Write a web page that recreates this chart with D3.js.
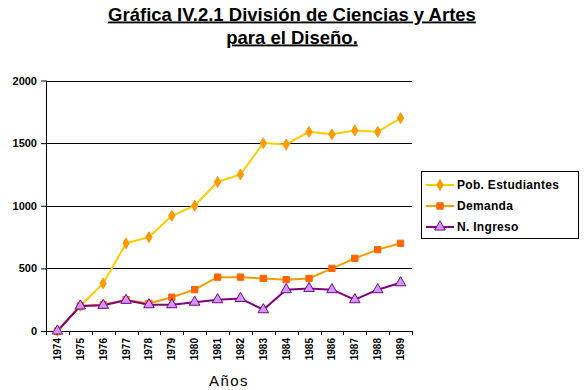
<!DOCTYPE html>
<html>
<head>
<meta charset="utf-8">
<script src="https://cdn.jsdelivr.net/npm/d3@7/dist/d3.min.js"></script>
<style>
  html, body { margin: 0; padding: 0; background: #fff; }
  svg { display: block; font-family: Arial, "Liberation Sans", sans-serif; }
</style>
</head>
<body>
<svg id="chart" width="584" height="390"></svg>
<script>
const years = ["1974","1975","1976","1977","1978","1979","1980","1981","1982","1983","1984","1985","1986","1987","1988","1989"];
const pobEstudiantes = [0,200,380,700,750,920,1000,1190,1250,1500,1490,1590,1570,1600,1590,1700];
const demanda = [0,200,210,250,220,270,330,430,430,420,410,420,500,580,650,700];
const nIngreso = [0,200,205,245,210,210,230,250,260,170,330,340,330,250,330,385];
const yTicks = [0,500,1000,1500,2000];
const titleLines = ["Gráfica IV.2.1 División de Ciencias y Artes", "para el Diseño."];
const xTitle = "Años";

(function () {
const series = [
  {name: "Pob. Estudiantes", values: pobEstudiantes, line: "#FFCC00", fill: "#FF9900", stroke: "#FF9900", symbol: d3.symbolDiamond, size: 34},
  {name: "Demanda", values: demanda, line: "#FF9900", fill: "#FF6600", stroke: "#FF6600", symbol: d3.symbolSquare, size: 40},
  {name: "N. Ingreso", values: nIngreso, line: "#800080", fill: "#CC99FF", stroke: "#800080", symbol: d3.symbolTriangle, size: 48}
];

const svg = d3.select("#chart");
const pLeft = 46, pRight = 412, pTop = 80.5, pBottom = 331;

const x = d3.scaleBand().domain(years).range([pLeft, pRight]);
const y = d3.scaleLinear().domain([0, 2000]).range([pBottom, pTop]);

// Title
titleLines.forEach((t, i) => {
  svg.append("text")
    .attr("x", 292).attr("y", 20.5 + i * 23)
    .attr("text-anchor", "middle")
    .attr("font-size", 18.5).attr("font-weight", "bold")
    .attr("text-decoration", "underline")
    .attr("fill", "#000")
    .text(t);
});

// Gridlines
svg.append("g").selectAll("line").data(yTicks.filter(d => d > 0)).join("line")
  .attr("x1", pLeft).attr("x2", pRight)
  .attr("y1", d => Math.round(y(d)) + 0.5).attr("y2", d => Math.round(y(d)) + 0.5)
  .attr("stroke", "#000").attr("stroke-width", 1);

// Y axis
const yAxis = svg.append("g").attr("transform", `translate(${pLeft},0)`)
  .call(d3.axisLeft(y).tickValues(yTicks).tickSize(5).tickPadding(4).tickFormat(d3.format("d")));
yAxis.select(".domain").attr("stroke", "#000").attr("d", `M0.5,${pTop}V${pBottom}`);
yAxis.selectAll(".tick line").attr("stroke", "#000");
yAxis.selectAll("text").attr("font-size", 11).attr("font-weight", "bold")
  .attr("font-family", "Arial, 'Liberation Sans', sans-serif").attr("fill", "#000");

// X axis
const xAxis = svg.append("g").attr("transform", `translate(0,${pBottom})`)
  .call(d3.axisBottom(x).tickSize(0).tickPadding(0));
xAxis.select(".domain").attr("stroke", "#000").attr("d", `M${pLeft},0.5H${pRight}`);
xAxis.selectAll(".tick text")
  .attr("font-size", 10).attr("font-weight", "bold")
  .attr("font-family", "Arial, 'Liberation Sans', sans-serif").attr("fill", "#000")
  .attr("transform", "rotate(-90)")
  .attr("text-anchor", "end")
  .attr("x", -7).attr("y", 0).attr("dy", "0.35em");
// Band boundary ticks
svg.append("g").selectAll("line").data(d3.range(years.length + 1)).join("line")
  .attr("x1", i => Math.round(pLeft + i * x.step()) + 0.5).attr("x2", i => Math.round(pLeft + i * x.step()) + 0.5)
  .attr("y1", pBottom).attr("y2", pBottom + 4)
  .attr("stroke", "#000");

// X axis title
svg.append("text")
  .attr("x", 229).attr("y", 386)
  .attr("text-anchor", "middle")
  .attr("font-size", 15).attr("letter-spacing", 1.5)
  .attr("fill", "#000")
  .text(xTitle);

// Lines & markers
const lineGen = d3.line().x((d, i) => x(years[i]) + x.bandwidth() / 2).y(d => y(d));
series.forEach(s => {
  svg.append("path").datum(s.values)
    .attr("fill", "none").attr("stroke", s.line).attr("stroke-width", 2).attr("d", lineGen);
});
series.forEach(s => {
  svg.append("g").selectAll("path").data(s.values).join("path")
    .attr("transform", (d, i) => `translate(${x(years[i]) + x.bandwidth() / 2},${y(d)})`)
    .attr("d", d3.symbol().type(s.symbol).size(s.size))
    .attr("fill", s.fill).attr("stroke", s.stroke).attr("stroke-width", 1);
});

// Legend
const legend = svg.append("g");
legend.append("rect").attr("x", 421.5).attr("y", 171.5).attr("width", 157).attr("height", 67)
  .attr("fill", "#fff").attr("stroke", "#000").attr("stroke-width", 1);
series.forEach((s, i) => {
  const ly = 185 + i * 21;
  legend.append("line").attr("x1", 426).attr("x2", 454).attr("y1", ly).attr("y2", ly)
    .attr("stroke", s.line).attr("stroke-width", 2);
  legend.append("path").attr("transform", `translate(440,${ly})`)
    .attr("d", d3.symbol().type(s.symbol).size(s.size))
    .attr("fill", s.fill).attr("stroke", s.stroke).attr("stroke-width", 1);
  legend.append("text").attr("x", 457).attr("y", ly).attr("dy", "0.35em")
    .attr("font-size", 12).attr("font-weight", "bold").attr("letter-spacing", 0.3).attr("fill", "#000")
    .text(s.name);
});
})();
</script>
</body>
</html>
